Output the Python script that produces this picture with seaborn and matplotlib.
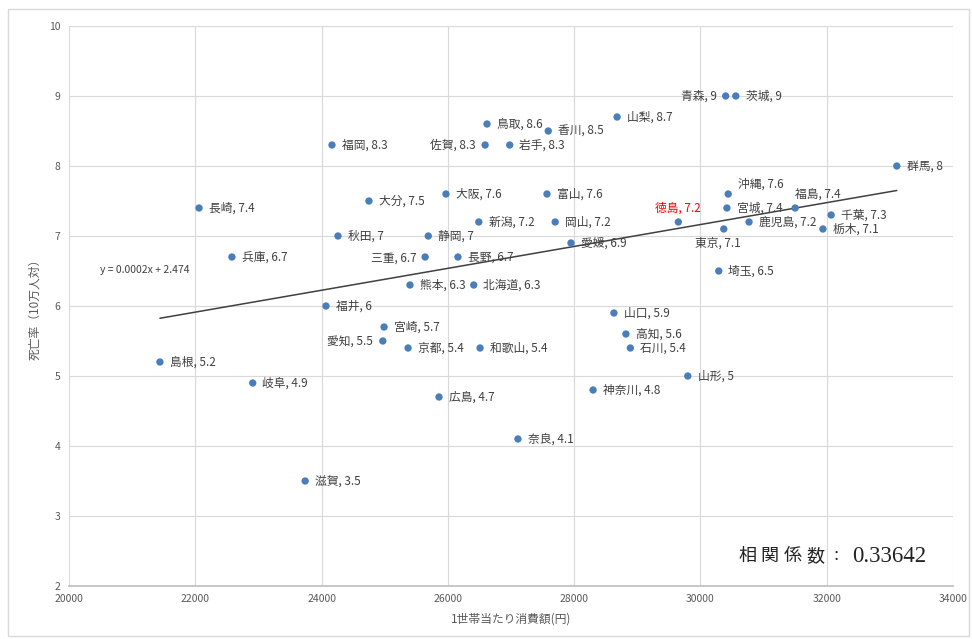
import numpy as np
import pandas as pd
import matplotlib
matplotlib.use("Agg")
import matplotlib.pyplot as plt
from matplotlib.patches import Rectangle
import seaborn as sns

sns.set_theme(style="whitegrid")
plt.rcParams['font.family'] = ['Noto Sans CJK JP', 'DejaVu Sans']

#----------------------------------------
# データ
prefs = ['島根', '長崎', '兵庫', '岐阜', '滋賀', '福岡', '秋田', '福井', '大分', '宮崎',
         '愛知', '熊本', '京都', '三重', '静岡', '広島', '大阪', '長野', '北海道', '新潟',
         '和歌山', '佐賀', '鳥取', '岩手', '奈良', '富山', '香川', '岡山', '愛媛', '神奈川',
         '山口', '山梨', '高知', '石川', '徳島', '山形', '埼玉', '東京', '青森', '沖縄',
         '宮城', '茨城', '鹿児島', '福島', '栃木', '千葉', '群馬']
spending = [21440, 22060, 22580, 22910, 23740, 24165, 24260, 24070, 24750, 24990,
            24970, 25400, 25370, 25640, 25690, 25860, 25970, 26160, 26410, 26490,
            26510, 26590, 26620, 26980, 27110, 27570, 27590, 27700, 27950, 28300,
            28630, 28680, 28820, 28890, 29650, 29800, 30290, 30370, 30400, 30440,
            30420, 30560, 30770, 31500, 31940, 32070, 33110]
death_rate = [5.2, 7.4, 6.7, 4.9, 3.5, 8.3, 7, 6, 7.5, 5.7,
              5.5, 6.3, 5.4, 6.7, 7, 4.7, 7.6, 6.7, 6.3, 7.2,
              5.4, 8.3, 8.6, 8.3, 4.1, 7.6, 8.5, 7.2, 6.9, 4.8,
              5.9, 8.7, 5.6, 5.4, 7.2, 5, 6.5, 7.1, 9, 7.6,
              7.4, 9, 7.2, 7.4, 7.1, 7.3, 8]
x_ticks = [20000, 22000, 24000, 26000, 28000, 30000, 32000, 34000]
y_ticks = [2, 3, 4, 5, 6, 7, 8, 9, 10]
eq_text = 'y = 0.0002x + 2.474'
corr_label = '相関係数'
corr_value = '0.33642'

df = pd.DataFrame({'pref': prefs, 'x': spending, 'y': death_rate})

# ラベル位置の例外 (offset points, ha, va)
label_pos = {
    '佐賀': ((-7, 0), 'right', 'center'),
    '三重': ((-6, -1), 'right', 'center'),
    '愛知': ((-7, 0), 'right', 'center'),
    '青森': ((-6, 0), 'right', 'center'),
    '沖縄': ((7, 7), 'left', 'center'),
    '福島': ((0, 10), 'left', 'center'),
    '徳島': ((0, 10), 'center', 'center'),
    '東京': ((-4, -10), 'center', 'center'),
}

#----------------------------------------
fig = plt.figure(figsize=(9.72, 6.39), dpi=100)
fig.patch.set_facecolor('white')
fig.patches.append(Rectangle((8 / 972, 1 - 636 / 639), 961 / 972, 627 / 639,
                             transform=fig.transFigure, fill=False,
                             edgecolor='#d9d9d9', linewidth=1))
ax = fig.add_axes([69 / 972, 1 - 586 / 639, 884 / 972, 560 / 639])

sns.regplot(data=df, x='x', y='y', scatter=False, ci=None, ax=ax,
            line_kws={'color': '#404040', 'linewidth': 1.1})
sns.scatterplot(data=df, x='x', y='y', ax=ax, color='#4a7ebb', s=28,
                edgecolor='none', zorder=3)

for _, r in df.iterrows():
    off, ha, va = label_pos.get(r['pref'], ((7, 0), 'left', 'center'))
    col = '#ff0000' if r['pref'] == '徳島' else '#404040'
    ax.annotate(f"{r['pref']}, {r['y']:g}", (r['x'], r['y']), xytext=off,
                textcoords='offset points', ha=ha, va=va, fontsize=8.5, color=col)

ax.set_xlim(20000, 34000)
ax.set_ylim(2, 10)
ax.set_xticks(x_ticks)
ax.set_yticks(y_ticks)
ax.tick_params(axis='both', labelsize=7.5, colors='#595959', length=0, pad=6)
ax.grid(True, color='#d9d9d9', linewidth=0.8)
for s in ['top', 'right', 'left']:
    ax.spines[s].set_visible(False)
ax.spines['bottom'].set_color('#bfbfbf')
ax.set_facecolor('white')

ax.set_xlabel('1世帯当たり消費額(円)', fontsize=8.5, color='#595959', labelpad=6)
ax.set_ylabel('死亡率（10万人対）', fontsize=8.5, color='#595959', labelpad=6)

ax.text(0.035, 0.564, eq_text, transform=ax.transAxes, fontsize=7.5,
        color='#404040', va='center')

# 相関係数（文字間隔をあけて1文字ずつ）
for i, ch in enumerate(corr_label):
    fig.text((747 + 22.7 * i) / 972, 1 - 556 / 639, ch, fontsize=13,
             color='#222222', ha='center', va='center')
fig.text(836 / 972, 1 - 556 / 639, ':', fontsize=14, color='#222222',
         ha='center', va='center', family=['Liberation Serif'])
fig.text(852 / 972, 1 - 556 / 639, corr_value, fontsize=16.5, color='#222222',
         ha='left', va='center', family=['Liberation Serif'])

fig.savefig('out.png', dpi=100)
